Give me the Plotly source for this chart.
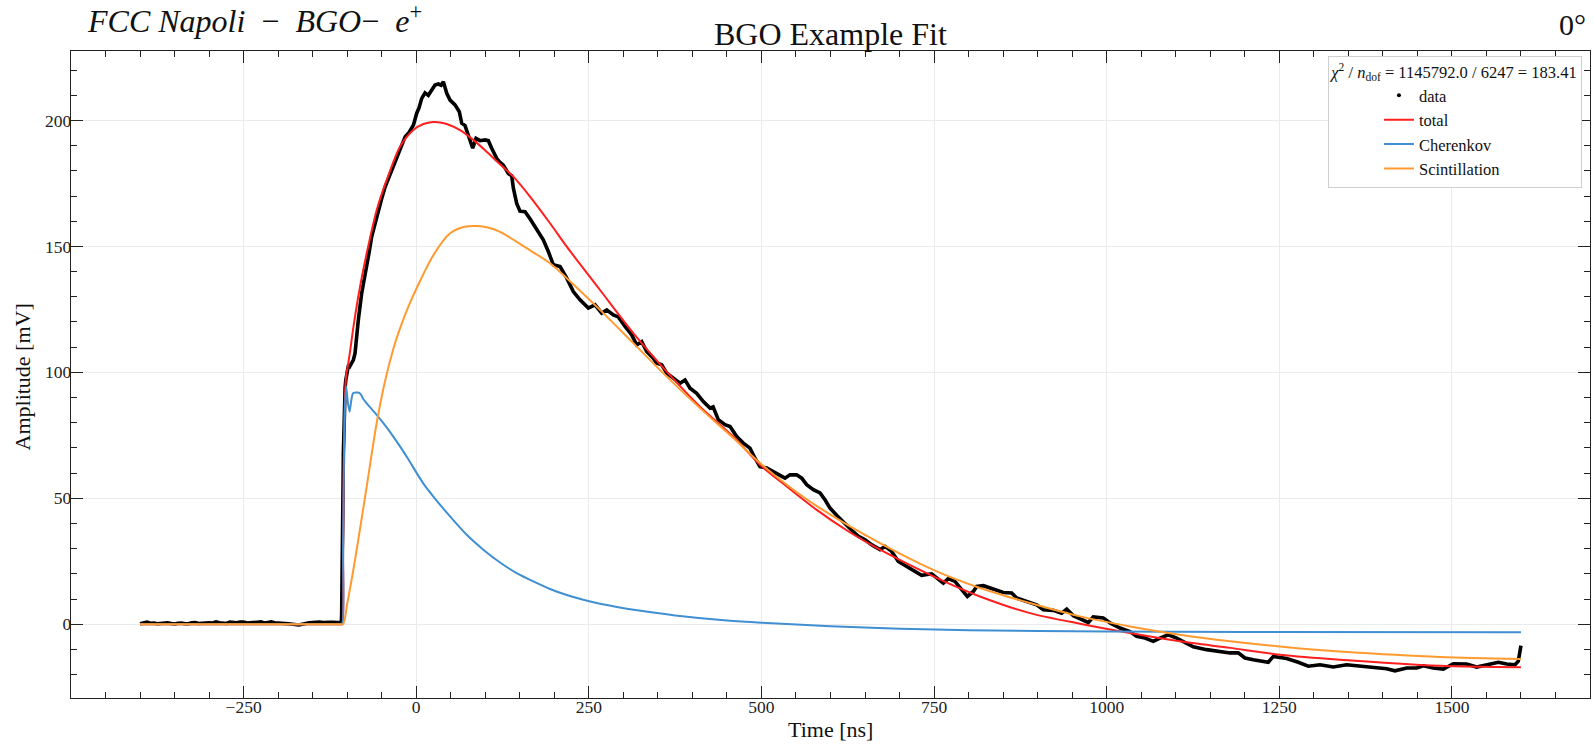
import plotly.graph_objects as go

# ---------------- data ----------------
data_t = [-400, -395, -390, -385, -380, -375, -370, -365, -360, -355, -350, -345, -340, -335, -330,
          -325, -320, -315, -310, -305, -300, -295, -290, -285, -280, -275, -270, -265, -260, -255,
          -250, -245, -240, -235, -230, -225, -220, -215, -210, -205, -200, -195, -190, -185, -180,
          -175, -170, -165, -160, -155, -150, -145, -140, -135, -130, -125, -120, -115, -110,
          -108.5, -108, -107.5, -107, -106.5, -106, -105.5, -105, -104, -103, -102, -100.5, -98, -96,
          -93.5, -91, -88.6, -86, -83.8, -79, -75, -71.7, -68, -64.5, -60, -54.9, -50, -45, -40, -33,
          -28, -23.5, -16, -11, -4, 0.7, 4, 8, 12.7, 17.5, 22.4, 27.2, 32, 36, 39.3, 44.2, 49, 56.2,
          62.4, 65.9, 70.7, 75.5, 81.8, 86.6, 92.4, 99.6, 104.4, 109.3, 116.5, 121, 126.2, 133.4,
          138.3, 140.7, 145.5, 150.3, 157.6, 164.8, 174.5, 184, 191.3, 198.6, 208.3, 218, 227.5,
          237.2, 249.3, 259, 268.6, 275.9, 285.5, 292.7, 302.4, 312.1, 319.3, 326.6, 333.8, 343.4,
          348, 355.5, 362.8, 372.4, 382, 389.3, 396.5, 406.2, 415.8, 425.5, 430, 437.5, 447.2, 454.5,
          464.2, 473.7, 483.4, 490.7, 497.9, 507.6, 517.2, 526.9, 534.1, 541.3, 551, 558.3, 565.5,
          575.1, 584.8, 592, 599.3, 610, 620, 630, 640, 650, 660, 671.7, 678.9, 688.6, 698.2, 710.3,
          719.9, 732, 746.6, 756.1, 763.4, 770.6, 780.3, 790, 798.2, 806.9, 811.7, 821.4, 835.8,
          850.3, 862.4, 869.7, 884.2, 898.6, 908.2, 922.7, 934.8, 942.1, 951.7, 963.8, 973.4, 980.6,
          995.1, 1004.8, 1019.3, 1033.7, 1043.4, 1055.5, 1067.5, 1077.2, 1089.2, 1101.4, 1111,
          1125.4, 1144.8, 1164.1, 1178.6, 1190.6, 1200.3, 1212.3, 1234, 1241.3, 1260.7, 1277.5,
          1292, 1309, 1328.2, 1347.6, 1366.9, 1386.2, 1405.5, 1417.5, 1434.5, 1449, 1458.5, 1473,
          1487.5, 1502, 1521.4, 1535.9, 1550.4, 1567.2, 1579.3, 1591.3, 1596.1, 1598.6, 1600]
data_v = [0.2, 0.6, 0.8, 0.4, 0.5, 0.2, 0.3, 0.7, 0.6, 0.3, 0.1, 0.4, 0.5, 0.2, 0.2,
          0.6, 0.7, 0.3, 0.4, 0.8, 0.6, 0.5, 0.9, 0.6, 0.5, 0.3, 0.8, 0.6, 0.6, 0.9,
          0.9, 0.5, 0.7, 0.6, 0.8, 0.9, 0.5, 0.7, 0.9, 0.6, 0.6, 0.4, 0.3, 0.2, 0.1,
          -0.2, -0.3, 0.0, 0.4, 0.6, 0.7, 0.9, 0.9, 0.7, 0.6, 0.8, 0.8, 0.6, 0.5,
          0.6, 4, 12, 25, 40, 55, 68, 78, 88, 94, 97, 100, 103, 102.5,
          103.6, 105, 107.6, 116, 121, 131.4, 137, 142, 148, 153.9, 159, 164.5, 169, 173.7, 177, 181.7,
          185, 188.3, 193.6, 195, 198.2, 202.9, 205, 208.8, 211, 210, 212.4, 214.1, 214.5, 214, 215.4, 210.8, 208.1, 206.2,
          203.5, 198.9, 198, 194.2, 189, 192.9, 192, 192.3, 192, 189, 185, 183.5, 182.3, 179,
          178, 173.1, 167.1, 164, 163.8, 161, 156.5, 152.6, 148, 142.7, 142, 137.4, 132.1,
          128.8, 125.5, 126.8, 123.5, 124.8, 122.8, 122, 118.2, 114.9, 110.9, 112.2, 108.3, 105.6,
          103.7, 103, 99.7, 97.7, 95.7, 97, 93.7, 91.7, 88.4, 85.8, 86.3, 81.2, 79.2, 78.5,
          74.5, 71.9, 69.9, 65.9, 62.6, 62, 60.6, 58.9, 58, 59.3, 59.3, 58, 55.4,
          53.4, 52.1, 49.4, 46.1, 43, 40, 37.5, 35, 33.5, 31.5, 29.6, 30.9, 28.9, 24.9, 22.9,
          21.6, 19.4, 20, 17.7, 16.3, 18.1, 17, 13.7, 11, 13, 15, 15.3, 14,
          12.6, 12.4, 10.4, 9, 7.7, 5.75, 5.5, 4.4, 6, 3.4, 1.8, 0.7, 2.9,
          2.5, 0.5, -1.5, -2.9, -4.8, -5.5, -6.8, -5.5, -4.2, -5.5, -6.8,
          -9, -10.1, -11, -11.4, -11.4, -13.4, -14.1, -15.1, -12.8, -13.6, -15.1,
          -16.7, -16.1, -17, -16.1, -16.7, -17.1, -17.7, -18.5, -17.4, -17.4, -16.5, -17.4,
          -17.8, -15.7, -15.8, -17, -16.1, -15.1, -15.8, -16.1, -14.7, -8.8, -8.5]

total_t = [-400, -115, -110, -107.5, -106, -104.5, -103, -101, -100, -96, -91, -81.4, -71.7, -57.2, -42.7,
           -23.5, -4.2, 10.3, 24.8, 35, 44.2, 63.4, 82.7, 102, 121.4, 140.6, 164.8, 193.8, 218,
           266.2, 314.4, 362.8, 411, 459.2, 497.9, 536.6, 580, 625, 671.7, 748.9, 816.5, 888.9,
           961.3, 1033.7, 1106, 1178.6, 1251, 1338, 1482.7, 1600]
total_v = [0, 0, 0, 0, 30, 72, 92, 100, 101, 108, 118, 134, 147.3, 164.5, 176.4,
           189.6, 196.2, 198.6, 199.4, 199.2, 198.6, 196.2, 192.3, 187.6, 182.6, 177.7, 169.8, 159.2, 149.9,
           132.7, 115.6, 100.3, 86.4, 74.5, 63.3, 54.7, 45.4, 37, 29.6, 19, 11, 4.4,
           0.2, -3.5, -6.8, -9.4, -12.1, -14.1, -16.5, -17.1]

cher_t = [-400, -115, -110, -107, -106, -104.5, -103, -101.5, -99, -96.5, -94, -91.5, -84, -80, -77, -72,
          -60, -47.6, -35, -23.5, -11, 0.7, 12, 24.8, 49, 73.1, 97.2, 121.4, 145.5, 169.6, 193.8,
          218, 242, 266.2, 320, 375, 450, 500, 600, 700, 800, 1000, 1200, 1600]
cher_v = [0, 0, 0, 0, 30, 70, 88, 94.4, 88, 84.4, 89, 91.7, 92, 91.2, 89.5, 87.8,
          84, 79.8, 75.2, 70.6, 65.3, 60, 55.2, 50.7, 42.8, 35.5, 29.6, 24.5, 20.3, 17, 14,
          11.6, 9.7, 8.1, 5.5, 3.5, 1.5, 0.6, -0.8, -1.8, -2.4, -2.9, -3.1, -3.2]

scint_t = [-400, -115, -110, -106, -100, -88.6, -71.7, -57.2, -45.2, -33, -23.5, -10, 0.7, 24.8, 49, 70, 87.6, 105,
           121.4, 160, 193.8, 218, 266.2, 314.4, 362.8, 411, 459.2, 497.9, 536.6, 584.8, 671.7,
           748.9, 816.5, 888.9, 961.3, 1033.7, 1106, 1178.6, 1280, 1338, 1482.7, 1600]
scint_v = [0, 0, 0, 0, 8, 25.6, 54.7, 80, 96.5, 109.5, 117.5, 127, 133.5, 146.5, 155.2, 157.8, 158.1, 157.4,
           155.8, 149.3, 143.3, 137.4, 124.8, 111.6, 98.3, 85.8, 73.9, 64, 55.4, 46.1, 32.2,
           21.6, 14.4, 8.4, 3.1, -0.9, -4.2, -6.8, -9.6, -10.8, -13, -13.8]

x_ticks = [-250, 0, 250, 500, 750, 1000, 1250, 1500]
y_ticks = [0, 50, 100, 150, 200]

RED = "#ff1f1f"
BLUE = "#3f8fd2"
ORANGE = "#ff9a30"
FONT = "Liberation Serif"

fig = go.Figure()
fig.add_trace(go.Scatter(x=data_t, y=data_v, mode="lines", line=dict(color="black", width=3.6),
                         showlegend=False, hoverinfo="skip"))
fig.add_trace(go.Scatter(x=[None], y=[None], mode="markers", name="data", legendgroup="a",
                         marker=dict(color="black", size=4)))
fig.add_trace(go.Scatter(x=total_t, y=total_v, mode="lines", name="total", legendgroup="b",
                         line=dict(color=RED, width=2, shape="spline", smoothing=0.8)))
fig.add_trace(go.Scatter(x=cher_t, y=cher_v, mode="lines", name="Cherenkov", legendgroup="c",
                         line=dict(color=BLUE, width=2, shape="spline", smoothing=0.6)))
fig.add_trace(go.Scatter(x=scint_t, y=scint_v, mode="lines", name="Scintillation", legendgroup="d",
                         line=dict(color=ORANGE, width=2, shape="spline", smoothing=0.9)))

axis_common = dict(
    showline=True, linecolor="#222222", linewidth=1.3, mirror="allticks",
    ticks="inside", ticklen=12, tickwidth=1.2, tickcolor="#222222",
    showgrid=True, gridcolor="#ebebeb", gridwidth=1, zeroline=False,
    tickfont=dict(family=FONT, size=17.5, color="#222222"),
)

fig.update_layout(
    width=1595, height=747,
    margin=dict(l=71, r=5, t=51, b=49),
    paper_bgcolor="white", plot_bgcolor="white",
    font=dict(family=FONT, color="#111111"),
    xaxis=dict(range=[-500, 1700], tickvals=x_ticks,
               minor=dict(dtick=50, tick0=0, ticks="inside", ticklen=6, tickcolor="#222222", showgrid=False),
               ticklabelstandoff=-7, **axis_common),
    yaxis=dict(range=[-29.3, 227.6], tickvals=y_ticks,
               minor=dict(dtick=10, tick0=0, ticks="inside", ticklen=6, tickcolor="#222222", showgrid=False),
               ticklabelstandoff=-5, **axis_common),
    legend=dict(
        x=0.9947, xanchor="right", y=0.993, yanchor="top",
        bgcolor="white", bordercolor="#cfcfcf", borderwidth=1,
        font=dict(family=FONT, size=16.5, color="#111111"),
        title=dict(text="<i>χ</i><sup>2</sup> / <i>n</i><sub>dof</sub> = 1145792.0 / 6247 = 183.41",
                   font=dict(family=FONT, size=16.5), side="top center"),
        itemwidth=30, tracegroupgap=0, indentation=50,
    ),
    annotations=[
        dict(text="BGO Example Fit", x=0.5, y=1.027, xref="paper", yref="paper",
             xanchor="center", yanchor="middle", showarrow=False,
             font=dict(family=FONT, size=32, color="#111111")),
        dict(text="<i>FCC Napoli</i>  −  <i>BGO</i>−  <i>e</i><sup>+</sup>", x=0.0092, y=1.049,
             xref="paper", yref="paper", xanchor="left", yanchor="middle", showarrow=False,
             font=dict(family=FONT, size=32, color="#111111")),
        dict(text="0°", x=0.9987, y=1.041, xref="paper", yref="paper",
             xanchor="right", yanchor="middle", showarrow=False,
             font=dict(family=FONT, size=30, color="#111111")),
        dict(text="Time [ns]", x=0.5, y=-0.049, xref="paper", yref="paper",
             xanchor="center", yanchor="middle", showarrow=False,
             font=dict(family=FONT, size=22, color="#111111")),
        dict(text="Amplitude [mV]", x=-0.032, y=0.496, xref="paper", yref="paper",
             xanchor="center", yanchor="middle", showarrow=False, textangle=-90,
             font=dict(family=FONT, size=22, color="#111111")),
    ],
)

fig.write_html("out.html")
